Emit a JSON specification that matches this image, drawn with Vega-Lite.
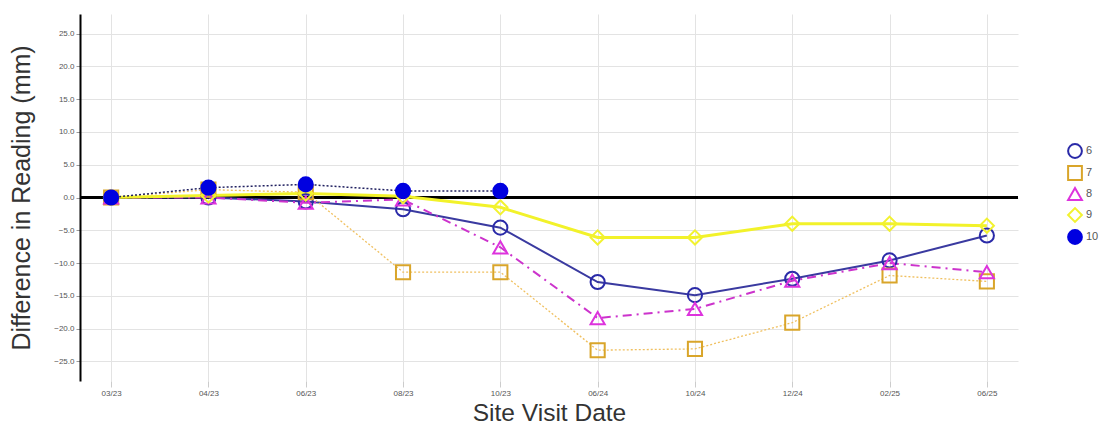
{
  "$schema": "https://vega.github.io/schema/vega-lite/v6.json",
  "autosize": "none",
  "width": 938,
  "height": 367,
  "padding": {"left": 80, "top": 14, "right": 94, "bottom": 58},
  "background": "white",
  "config": {
    "font": "Liberation Sans",
    "view": {"stroke": null},
    "legend": {
      "orient": "none",
      "legendX": 987,
      "legendY": 129,
      "padding": 0,
      "symbolSize": 190,
      "symbolStrokeWidth": 2,
      "labelFontSize": 11,
      "labelColor": "#555555",
      "labelOffset": 3,
      "rowPadding": 0
    }
  },
  "data": {
    "values": [
      {"series": "6", "date": "03/23", "value": 0},
      {"series": "6", "date": "04/23", "value": 0},
      {"series": "6", "date": "06/23", "value": -0.6},
      {"series": "6", "date": "08/23", "value": -1.8},
      {"series": "6", "date": "10/23", "value": -4.6},
      {"series": "6", "date": "06/24", "value": -12.9},
      {"series": "6", "date": "10/24", "value": -14.9},
      {"series": "6", "date": "12/24", "value": -12.4},
      {"series": "6", "date": "02/25", "value": -9.6},
      {"series": "6", "date": "06/25", "value": -5.8},
      {"series": "7", "date": "03/23", "value": 0},
      {"series": "7", "date": "04/23", "value": 1.2},
      {"series": "7", "date": "06/23", "value": 0.8},
      {"series": "7", "date": "08/23", "value": -11.4},
      {"series": "7", "date": "10/23", "value": -11.4},
      {"series": "7", "date": "06/24", "value": -23.3},
      {"series": "7", "date": "10/24", "value": -23.1},
      {"series": "7", "date": "12/24", "value": -19.1},
      {"series": "7", "date": "02/25", "value": -11.9},
      {"series": "7", "date": "06/25", "value": -12.8},
      {"series": "8", "date": "03/23", "value": 0},
      {"series": "8", "date": "04/23", "value": 0},
      {"series": "8", "date": "06/23", "value": -0.8},
      {"series": "8", "date": "08/23", "value": -0.3},
      {"series": "8", "date": "10/23", "value": -7.6},
      {"series": "8", "date": "06/24", "value": -18.4},
      {"series": "8", "date": "10/24", "value": -17.0},
      {"series": "8", "date": "12/24", "value": -12.7},
      {"series": "8", "date": "02/25", "value": -10.0},
      {"series": "8", "date": "06/25", "value": -11.4},
      {"series": "9", "date": "03/23", "value": 0},
      {"series": "9", "date": "04/23", "value": 0.3},
      {"series": "9", "date": "06/23", "value": 0.6},
      {"series": "9", "date": "08/23", "value": 0.2},
      {"series": "9", "date": "10/23", "value": -1.5},
      {"series": "9", "date": "06/24", "value": -6.1},
      {"series": "9", "date": "10/24", "value": -6.1},
      {"series": "9", "date": "12/24", "value": -4.0},
      {"series": "9", "date": "02/25", "value": -4.0},
      {"series": "9", "date": "06/25", "value": -4.3},
      {"series": "10", "date": "03/23", "value": 0},
      {"series": "10", "date": "04/23", "value": 1.5},
      {"series": "10", "date": "06/23", "value": 2.0},
      {"series": "10", "date": "08/23", "value": 1.0},
      {"series": "10", "date": "10/23", "value": 1.0}
    ]
  },
  "encoding": {
    "x": {
      "field": "date",
      "type": "nominal",
      "sort": null,
      "scale": {
        "type": "point",
        "padding": 0.32,
        "domain": ["03/23", "04/23", "06/23", "08/23", "10/23", "06/24", "10/24", "12/24", "02/25", "06/25"]
      },
      "axis": {
        "title": "Site Visit Date",
        "titleFontSize": 24.5,
        "titleFontWeight": "normal",
        "titleColor": "#333333",
        "titlePadding": 4,
        "labelAngle": 0,
        "labelFontSize": 8,
        "labelColor": "#555555",
        "labelPadding": 2,
        "domain": false,
        "ticks": true,
        "tickSize": 6,
        "tickColor": "#cccccc",
        "grid": true,
        "gridColor": "#e3e3e3"
      }
    },
    "y": {
      "field": "value",
      "type": "quantitative",
      "scale": {"domain": [-28, 28], "nice": false, "zero": false},
      "axis": {
        "title": "Difference in Reading (mm)",
        "titleFontSize": 25,
        "titleFontWeight": "normal",
        "titleColor": "#333333",
        "titlePadding": 19,
        "values": [-25, -20, -15, -10, -5, 0, 5, 10, 15, 20, 25],
        "format": ".1f",
        "labelFontSize": 8,
        "labelColor": "#555555",
        "labelPadding": 2,
        "domain": true,
        "domainColor": "#000000",
        "domainWidth": 2,
        "tickSize": 4,
        "tickColor": "#999999",
        "grid": true,
        "gridColor": "#e3e3e3"
      }
    }
  },
  "layer": [
    {
      "mark": {"type": "rule", "color": "#000000", "strokeWidth": 2},
      "encoding": {"y": {"datum": 0}, "x": null}
    },
    {
      "transform": [{"filter": "datum.series == '6'"}],
      "mark": {"type": "line", "color": "#3a3aa0", "strokeWidth": 2}
    },
    {
      "transform": [{"filter": "datum.series == '7'"}],
      "mark": {"type": "line", "color": "#f0c060", "strokeWidth": 1.3, "strokeDash": [2, 2]}
    },
    {
      "transform": [{"filter": "datum.series == '8'"}],
      "mark": {"type": "line", "color": "#cc33cc", "strokeWidth": 2, "strokeDash": [9, 5, 2, 5]}
    },
    {
      "transform": [{"filter": "datum.series == '9'"}],
      "mark": {"type": "line", "color": "#f2f22a", "strokeWidth": 3}
    },
    {
      "transform": [{"filter": "datum.series == '10'"}],
      "mark": {"type": "line", "color": "#202060", "strokeWidth": 1.5, "strokeDash": [2, 2]}
    },
    {
      "mark": {"type": "point", "filled": true, "size": 200, "strokeWidth": 2, "opacity": 1},
      "encoding": {
        "stroke": {
          "field": "series", "type": "nominal",
          "scale": {"domain": ["6", "7", "8", "9", "10"], "range": ["#2a2aa8", "#d9a52a", "#dd33dd", "#f2f230", "#0000e0"]},
          "legend": {"title": null}
        },
        "fill": {
          "field": "series", "type": "nominal",
          "scale": {"domain": ["6", "7", "8", "9", "10"], "range": ["transparent", "transparent", "transparent", "transparent", "#0000e0"]},
          "legend": {"title": null}
        },
        "shape": {
          "field": "series", "type": "nominal",
          "scale": {"domain": ["6", "7", "8", "9", "10"], "range": ["circle", "square", "triangle-up", "diamond", "circle"]},
          "legend": {"title": null}
        }
      }
    }
  ]
}
